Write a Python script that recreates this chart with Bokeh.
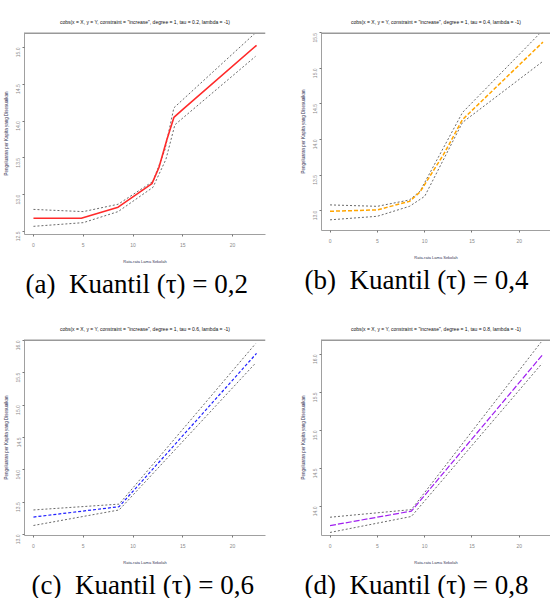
import math
from bokeh.plotting import figure
from bokeh.models import Range1d, FixedTicker, Title, Span, PrintfTickFormatter
from bokeh.layouts import column, row
from bokeh.embed import file_html
from bokeh.resources import INLINE

# ---------------- data ----------------
x_ticks = [0, 5, 10, 15, 20]

# (a) tau = 0.2
a_fit_x = [0, 4.8, 8.5, 11.9, 12.6, 13.4, 14.1, 15.0, 22.4]
a_fit_y = [12.68, 12.68, 12.83, 13.15, 13.37, 13.75, 14.05, 14.16, 15.03]
a_up_x = [0, 5, 8.5, 12, 13.2, 14.1, 22.3]
a_up_y = [12.80, 12.77, 12.87, 13.18, 13.61, 14.18, 15.20]
a_lo_x = [0, 5, 8.5, 12, 13.3, 14.2, 22.3]
a_lo_y = [12.57, 12.62, 12.77, 13.10, 13.48, 13.95, 14.88]
a_yticks = [12.5, 13.0, 13.5, 14.0, 14.5, 15.0]

# (b) tau = 0.4
b_fit_x = [0, 5, 8.4, 9.5, 12, 14, 22.5]
b_fit_y = [12.99, 13.01, 13.13, 13.26, 13.79, 14.28, 15.37]
b_up_x = [0, 5, 8.4, 9.5, 14, 22.3]
b_up_y = [13.08, 13.06, 13.15, 13.27, 14.38, 15.51]
b_lo_x = [0, 5, 8.4, 10, 14, 22.5]
b_lo_y = [12.87, 12.92, 13.06, 13.20, 14.24, 15.10]
b_yticks = [13.0, 13.5, 14.0, 14.5, 15.0, 15.5]

# (c) tau = 0.6
c_fit_x = [0, 8.6, 22.4]
c_fit_y = [13.27, 13.43, 15.80]
c_up_x = [0, 8.6, 22.3]
c_up_y = [13.38, 13.47, 15.95]
c_lo_x = [0, 8.6, 22.3]
c_lo_y = [13.14, 13.38, 15.65]
c_yticks = [13.0, 13.5, 14.0, 14.5, 15.0, 15.5, 16.0]

# (d) tau = 0.8
d_fit_x = [0, 8.6, 22.5]
d_fit_y = [13.75, 13.94, 16.00]
d_up_x = [0, 8.6, 22.3]
d_up_y = [13.86, 13.96, 16.16]
d_lo_x = [0, 8.6, 22.4]
d_lo_y = [13.66, 13.87, 15.88]
d_yticks = [14.0, 14.5, 15.0, 15.5, 16.0]

taus = ["0.2", "0.4", "0.6", "0.8"]
captions = ["(a)\u00a0\u00a0Kuantil (\u03c4) = 0,2", "(b)\u00a0\u00a0Kuantil (\u03c4) = 0,4",
            "(c)\u00a0\u00a0Kuantil (\u03c4) = 0,6", "(d)\u00a0\u00a0Kuantil (\u03c4) = 0,8"]
x_label = "Rata-rata Lama Sekolah"
y_label = "Pengeluaran per Kapita yang Disesuaikan"

SANS = "Liberation Sans Narrow, Liberation Sans"


def panel(fx, fy, ux, uy, lx, ly, yticks, yr, tau, caption, color, dash, lw,
          left, fw, right, top, fh, bottom, cap_offset):
    p = figure(frame_width=fw, frame_height=fh,
               min_border_left=left, min_border_right=right,
               min_border_top=top, min_border_bottom=bottom,
               x_range=Range1d(-0.9, 23.3), y_range=Range1d(*yr),
               output_backend="svg", toolbar_location=None)
    p.outline_line_color = None
    p.xgrid.grid_line_color = None
    p.ygrid.grid_line_color = None
    p.background_fill_color = "white"

    # outermost (blank) title acts as top spacer
    p.title.text = "\u00a0"
    p.title.text_font_size = "2px"
    p.title.standoff = 5

    head = Title(text='cobs(x = X, y = Y, constraint = "increase", degree = 1, tau = %s, lambda = -1)' % tau,
                 align="center", text_font=SANS, text_font_size="5px",
                 text_font_style="normal", text_color="#111111", standoff=15)
    p.add_layout(head, "above")

    for ax in (p.xaxis[0], p.yaxis[0]):
        ax.axis_line_color = "#a0a0a0"
        ax.axis_line_width = 1
        ax.major_tick_line_color = "#777777"
        ax.major_tick_in = 0
        ax.major_tick_out = 2
        ax.minor_tick_line_color = None
        ax.major_label_text_font = SANS
        ax.major_label_text_font_size = "5px"
        ax.major_label_text_color = "#8a8a8a"
        ax.axis_label_text_font = SANS
        ax.axis_label_text_font_size = "4.5px"
        ax.axis_label_text_font_style = "normal"
        ax.axis_label_text_color = "#333355"
        ax.major_label_standoff = 4
        ax.axis_label_standoff = 3

    p.xaxis[0].ticker = FixedTicker(ticks=x_ticks)
    p.xaxis[0].major_label_standoff = 6
    p.xaxis[0].axis_label_standoff = 9
    p.xaxis[0].axis_label_text_font_size = "4px"
    p.yaxis[0].ticker = FixedTicker(ticks=yticks)
    p.yaxis[0].formatter = PrintfTickFormatter(format="%.1f")
    p.yaxis[0].major_label_orientation = math.pi / 2
    p.xaxis[0].axis_label = x_label
    p.yaxis[0].axis_label = y_label

    p.add_layout(Span(location=yr[1], dimension="width", line_color="#999999", line_width=3))

    p.line(ux, uy, line_color="#444444", line_width=0.8, line_dash="2 2")
    p.line(lx, ly, line_color="#444444", line_width=0.8, line_dash="2 2")
    p.line(fx, fy, line_color=color, line_width=lw, line_dash=dash)

    cap = Title(text=caption, align="left", offset=cap_offset,
                text_font="Liberation Serif", text_font_size="27px",
                text_font_style="normal", text_color="black", standoff=0,
                text_line_height=0.75)
    p.add_layout(cap, "below")
    return p


pa = panel(a_fit_x, a_fit_y, a_up_x, a_up_y, a_lo_x, a_lo_y, a_yticks, (12.459, 15.204),
           taus[0], captions[0], "#ff2a2a", "solid", 1.6,
           18, 241, 13, 25, 202, 73, 1)
pb = panel(b_fit_x, b_fit_y, b_up_x, b_up_y, b_lo_x, b_lo_y, b_yticks, (12.72, 15.505),
           taus[1], captions[1], "#ffa500", "4 2", 1.5,
           43, 229, 0, 25, 198, 77, -17)
pc = panel(c_fit_x, c_fit_y, c_up_x, c_up_y, c_lo_x, c_lo_y, c_yticks, (12.985, 16.015),
           taus[2], captions[2], "#2020ff", "3 2", 1.2,
           18, 241, 13, 25, 196, 61, 7)
pd = panel(d_fit_x, d_fit_y, d_up_x, d_up_y, d_lo_x, d_lo_y, d_yticks, (13.62, 16.195),
           taus[3], captions[3], "#a020f0", "6 2", 1.2,
           43, 229, 0, 25, 196, 61, -17)

layout = column(row(pa, pb, spacing=0), row(pc, pd, spacing=0), spacing=0)
open("out.html", "w").write(file_html(layout, INLINE))
